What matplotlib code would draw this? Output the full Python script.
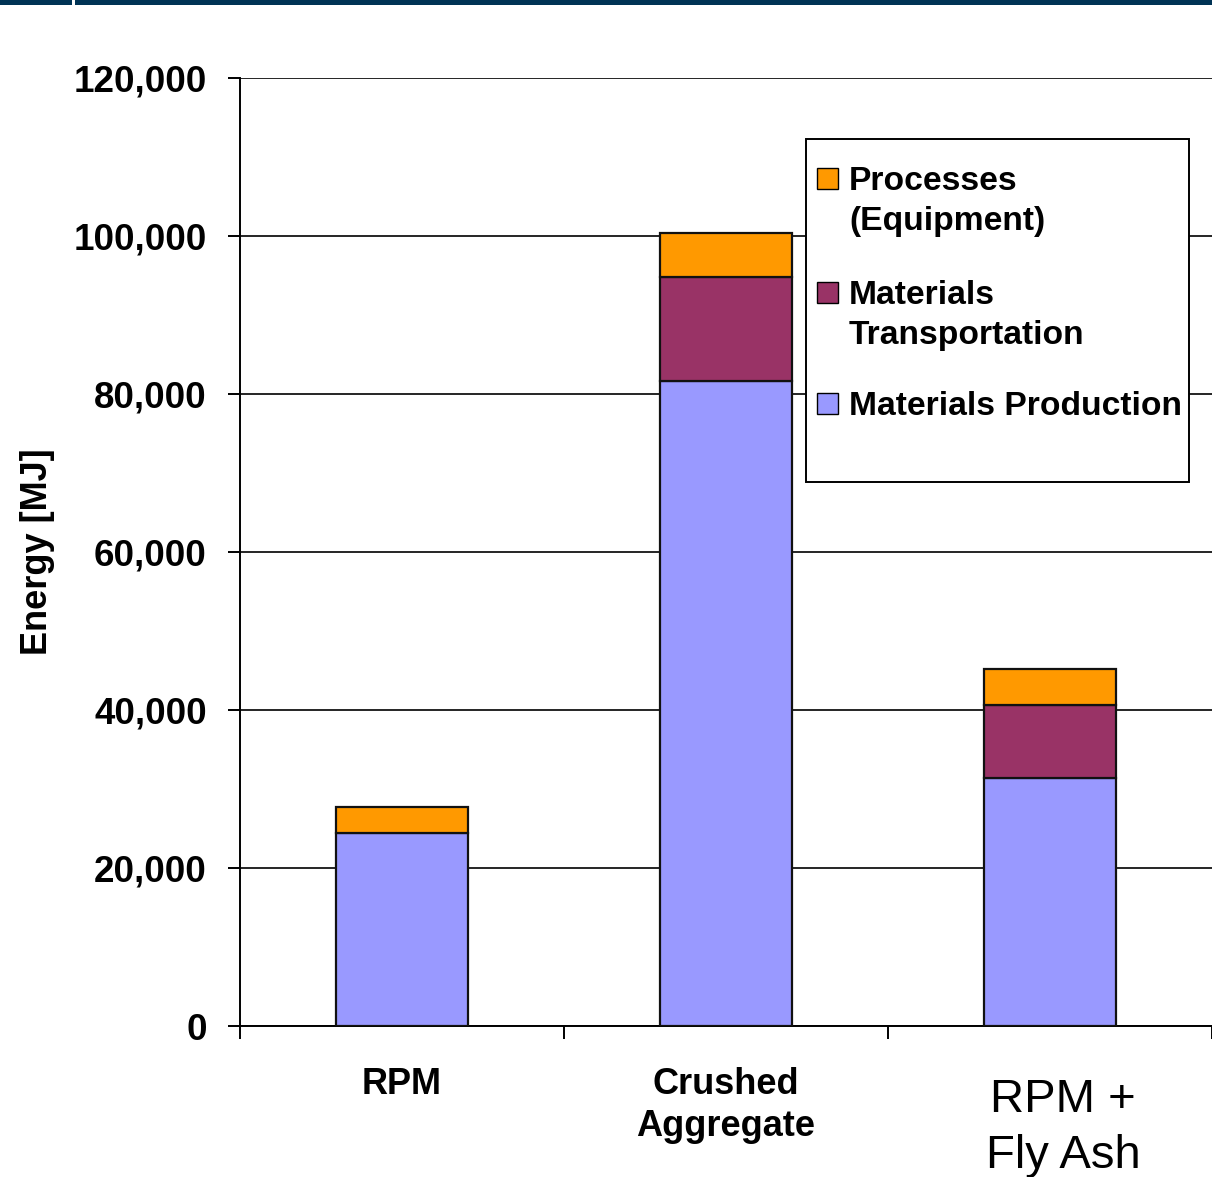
import numpy as np
import matplotlib
matplotlib.use("Agg")
import matplotlib.pyplot as plt
from matplotlib.patches import Rectangle
from matplotlib.ticker import FuncFormatter

plt.rcParams['font.family'] = ['Liberation Sans', 'DejaVu Sans']

# energy per alternative, MJ
categories = ["RPM", "Crushed\nAggregate", "RPM +\nFly Ash"]
production = [24400, 81600, 31400]
transportation = [0, 13200, 9200]
processes = [3300, 5600, 4600]

colors = {"prod": "#9999ff", "trans": "#993366", "proc": "#ff9900"}

W, H, DPI = 1212, 1177, 100
fig = plt.figure(figsize=(W / DPI, H / DPI), dpi=DPI)

def fx(px):
    return px / W

def fy(py):
    return 1 - py / H

ax = fig.add_axes([fx(240), fy(1026), fx(972), fy(78) - fy(1026)])

x = np.arange(len(categories)) + 0.5
prod = np.array(production)
trans = np.array(transportation)
proc = np.array(processes)
bw = 0.405
kw = dict(width=bw, edgecolor="#111111", linewidth=1.6, zorder=3)
ax.bar(x, prod, color=colors["prod"], **kw)
ax.bar(x[trans > 0], trans[trans > 0], bottom=prod[trans > 0], color=colors["trans"], **kw)
ax.bar(x, proc, bottom=prod + trans, color=colors["proc"], **kw)

ax.set_ylim(0, 120000)
ax.set_xlim(0, 3)
ax.set_yticks(np.arange(0, 120001, 20000))
ax.yaxis.set_major_formatter(FuncFormatter(lambda v, p: f"{int(v):,}"))
ax.set_xticks([0, 1, 2, 3])
ax.set_xticklabels([])
ax.grid(axis="y", color="black", linewidth=1.2, zorder=0)
for s in ["top", "right"]:
    ax.spines[s].set_visible(False)
ax.spines["left"].set_linewidth(1.4)
ax.spines["bottom"].set_linewidth(1.4)
ax.tick_params(axis="y", direction="out", length=9, width=1.4, pad=15,
               labelsize=26.5)
ax.tick_params(axis="x", direction="out", length=9, width=1.4)
for lab in ax.get_yticklabels():
    lab.set_fontweight("bold")

# category labels
xt = ax.get_xaxis_transform()
ax.text(x[0], -0.0717, "RPM", transform=xt,
        ha="center", va="baseline", fontsize=26, fontweight="bold")
ax.text(x[1], -0.0717, "Crushed", transform=xt,
        ha="center", va="baseline", fontsize=26, fontweight="bold")
ax.text(x[1], -0.1160, "Aggregate", transform=xt,
        ha="center", va="baseline", fontsize=26, fontweight="bold")
ax.text(x[2] + 0.04, -0.0907, "RPM +", transform=xt,
        ha="center", va="baseline", fontsize=34)
ax.text(x[2] + 0.04, -0.1498, "Fly Ash", transform=xt,
        ha="center", va="baseline", fontsize=34)

fig.text(fx(38), fy(552), "Energy [MJ]", rotation=90, ha="center", va="center",
         fontsize=26, fontweight="bold")

# legend box
fig.add_artist(Rectangle((fx(806), fy(482)), fx(383), fy(139) - fy(482),
                         transform=fig.transFigure, facecolor="white",
                         edgecolor="black", linewidth=1.4, zorder=5))
leg_items = [
    (colors["proc"], ["Processes", "(Equipment)"], 168),
    (colors["trans"], ["Materials", "Transportation"], 282),
    (colors["prod"], ["Materials Production"], 393),
]
for c, lines, top in leg_items:
    fig.add_artist(Rectangle((fx(817), fy(top + 21)), fx(21), fy(top) - fy(top + 21),
                             transform=fig.transFigure, facecolor=c,
                             edgecolor="black", linewidth=1.0, zorder=6))
    for i, line in enumerate(lines):
        fig.text(fx(849), fy(top + 22 + 40 * i), line, ha="left", va="baseline",
                 fontsize=24.2, fontweight="bold", zorder=7)

# navy strip at the top
fig.add_artist(Rectangle((0, fy(5)), fx(72), fy(0) - fy(5), transform=fig.transFigure,
                         facecolor="#003355", edgecolor="none"))
fig.add_artist(Rectangle((fx(75), fy(5)), 1, fy(0) - fy(5), transform=fig.transFigure,
                         facecolor="#003355", edgecolor="none"))

fig.savefig("out.png", dpi=DPI)
